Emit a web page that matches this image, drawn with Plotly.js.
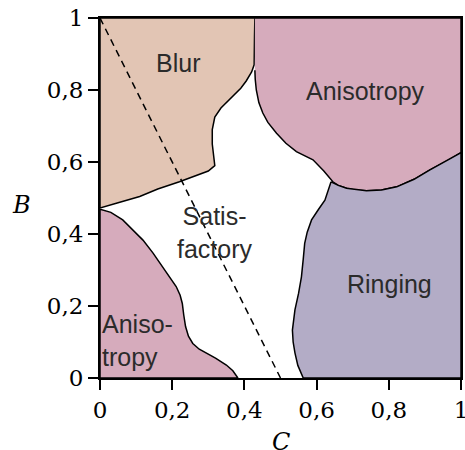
<!DOCTYPE html>
<html>
<head>
<meta charset="utf-8">
<script src="https://cdn.plot.ly/plotly-3.0.1.min.js"></script>
<style>html,body{margin:0;padding:0;background:#fff;}#chart{width:465px;height:450px;}</style>
</head>
<body>
<div id="chart"></div>
<script>
// Region boundaries (C on x, B on y)
const blurC = [0, 0.429, 0.428, 0.427, 0.42, 0.405, 0.39, 0.36, 0.335, 0.318, 0.311, 0.311, 0.314, 0.318, 0.3, 0.26, 0.22, 0.16, 0.11, 0.05, 0, 0];
const blurB = [1, 1, 0.95, 0.87, 0.85, 0.825, 0.805, 0.775, 0.75, 0.725, 0.69, 0.65, 0.62, 0.59, 0.575, 0.56, 0.545, 0.525, 0.504, 0.487, 0.472, 1];

const anisoTopC = [0.429, 1, 1, 0.96, 0.914, 0.87, 0.822, 0.78, 0.738, 0.705, 0.683, 0.66, 0.645, 0.62, 0.59, 0.544, 0.515, 0.489, 0.465, 0.451, 0.44, 0.433, 0.43, 0.429];
const anisoTopB = [1, 1, 0.626, 0.602, 0.578, 0.552, 0.531, 0.522, 0.52, 0.522, 0.527, 0.535, 0.545, 0.575, 0.606, 0.629, 0.652, 0.68, 0.71, 0.736, 0.765, 0.8, 0.83, 0.855];

const ringC = [0.64, 0.66, 0.683, 0.738, 0.78, 0.822, 0.87, 0.914, 1, 1, 0.563, 0.548, 0.54, 0.535, 0.533, 0.536, 0.54, 0.55, 0.558, 0.563, 0.567, 0.574, 0.586, 0.605, 0.623, 0.64];
const ringB = [0.545, 0.535, 0.527, 0.52, 0.522, 0.531, 0.552, 0.578, 0.626, 0, 0, 0.035, 0.07, 0.1, 0.133, 0.16, 0.189, 0.235, 0.281, 0.33, 0.374, 0.405, 0.439, 0.468, 0.494, 0.545];

const anisoLowC = [0, 0.03, 0.063, 0.09, 0.119, 0.147, 0.174, 0.195, 0.211, 0.222, 0.228, 0.232, 0.237, 0.245, 0.257, 0.275, 0.295, 0.32, 0.35, 0.368, 0.382, 0, 0];
const anisoLowB = [0.469, 0.46, 0.439, 0.413, 0.383, 0.347, 0.309, 0.28, 0.254, 0.23, 0.207, 0.175, 0.143, 0.116, 0.096, 0.08, 0.069, 0.055, 0.036, 0.02, 0, 0, 0.469];

const dashedC = [0, 0.5];
const dashedB = [1, 0];

const labelText = ['Blur', 'Anisotropy', 'Satis-<br>factory', 'Ringing', 'Aniso-<br>tropy'];
const labelC = [0.215, 0.736, 0.318, 0.803, 0.104];
const labelB = [0.875, 0.797, 0.405, 0.261, 0.105];

const tickVals = [0, 0.2, 0.4, 0.6, 0.8, 1];
const tickText = ['0', '0,2', '0,4', '0,6', '0,8', '1'];

const regionColors = ['#e2c5b4', '#d6abbc', '#b3acc6', '#d6abbc'];

function region(c, b, color) {
  return {x: c, y: b, type: 'scatter', mode: 'lines', fill: 'toself', fillcolor: color,
    line: {color: '#000', width: 1.5}, hoverinfo: 'skip', showlegend: false};
}

const traces = [
  region(blurC, blurB, regionColors[0]),
  region(anisoTopC, anisoTopB, regionColors[1]),
  region(ringC, ringB, regionColors[2]),
  region(anisoLowC, anisoLowB, regionColors[3]),
  {x: dashedC, y: dashedB, type: 'scatter', mode: 'lines', line: {color: '#000', width: 1.5, dash: '7px,5px'}, showlegend: false, hoverinfo: 'skip'}
];

const serif = '"DejaVu Serif", serif';

const annotations = labelText.map((t, i) => ({
  x: labelC[i], y: labelB[i], xref: 'x', yref: 'y', text: t, showarrow: false,
  font: {family: 'Liberation Sans', size: 25, color: '#2b2b2b'},
  align: i === 4 ? 'left' : 'center'
}));
annotations.push({x: -0.25, y: 0.48, xref: 'paper', yref: 'paper', text: '<i>B</i>', showarrow: false,
  font: {family: serif, size: 24, color: '#000'}});
annotations.push({x: 0.5, y: -0.133, xref: 'paper', yref: 'paper', yanchor: 'top', text: '<i>C</i>', showarrow: false,
  font: {family: serif, size: 24, color: '#000'}});

const axisCommon = {
  range: [0, 1], tickvals: tickVals, ticktext: tickText, ticks: 'outside', ticklen: 10, tickwidth: 2,
  tickcolor: '#000', showline: true, linewidth: 2, linecolor: '#000', mirror: true,
  showgrid: false, zeroline: false, fixedrange: true, ticklabeloverflow: 'allow',
  tickfont: {family: serif, size: 23, color: '#000'}
};

const layout = {
  width: 465, height: 450,
  margin: {l: 100, r: 4, t: 18, b: 72},
  paper_bgcolor: '#fff', plot_bgcolor: '#fff',
  xaxis: Object.assign({}, axisCommon),
  yaxis: Object.assign({}, axisCommon),
  annotations: annotations,
  showlegend: false
};

Plotly.newPlot('chart', traces, layout, {displayModeBar: false, staticPlot: true});
</script>
</body>
</html>
